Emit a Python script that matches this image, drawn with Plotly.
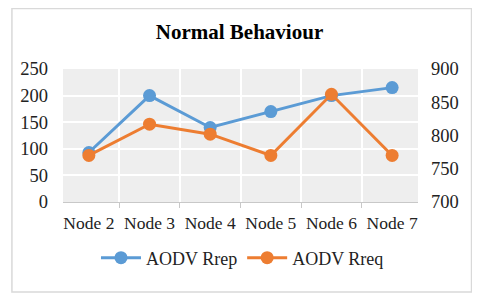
import plotly.graph_objects as go

categories = ["Node 2", "Node 3", "Node 4", "Node 5", "Node 6", "Node 7"]
aodv_rrep = [93, 200, 140, 170, 200, 215]
aodv_rreq = [770, 817, 802, 770, 862, 770]
left_ticks = [0, 50, 100, 150, 200, 250]
right_ticks = [700, 750, 800, 850, 900]

# page has an 8px body margin; size the figure to fill the rest of the window
W, H = 472, 287
L, R, T, B = 52, 62, 61, 93
pw, ph = W - L - R, H - T - B

font = "Liberation Serif, Times New Roman, serif"
blue = "#5b9bd5"
orange = "#ed7d31"

fig = go.Figure()
fig.add_trace(go.Scatter(x=categories, y=aodv_rrep, name="AODV Rrep", mode="lines+markers",
                         line=dict(color=blue, width=3), marker=dict(size=13, color=blue)))
fig.add_trace(go.Scatter(x=categories, y=aodv_rreq, name="AODV Rreq", mode="lines+markers",
                         line=dict(color=orange, width=3), marker=dict(size=13, color=orange),
                         yaxis="y2"))

def px2x(p):
    return (p - L) / pw

def py2y(p):
    return (H - B - p) / ph

fig.update_layout(
    width=W, height=H,
    margin=dict(l=L, r=R, t=T, b=B),
    paper_bgcolor="white",
    plot_bgcolor="#eeeeee",
    font=dict(family=font, size=18, color="#222"),
    title=dict(text="<b>Normal Behaviour</b>", x=231.5 / W, xanchor="center", y=1 - 24 / H, yanchor="middle",
               font=dict(family=font, size=21, color="#000")),
    xaxis=dict(type="category", tickson="boundaries", showgrid=True, gridcolor="white", gridwidth=1.5,
               showline=True, linecolor="#c8c8c8", linewidth=1, ticks="outside", ticklen=5,
               tickcolor="#c8c8c8", tickangle=0, ticklabelstandoff=5,
               tickfont=dict(size=17.5, family=font, color="#222")),
    yaxis=dict(range=[0, 250], tickvals=left_ticks, showgrid=True, gridcolor="white", gridwidth=1.5,
               zeroline=False, ticks="", ticklabelstandoff=14, tickfont=dict(size=18.5, family=font, color="#222")),
    yaxis2=dict(range=[700, 900], tickvals=right_ticks, overlaying="y", side="right", showgrid=False,
                zeroline=False, ticks="", ticklabelstandoff=12, tickfont=dict(size=18.5, family=font, color="#222")),
    legend=dict(orientation="h", x=px2x(233), xanchor="center", y=py2y(250), yanchor="middle",
                font=dict(size=18, family=font, color="#222"), itemwidth=40, tracegroupgap=0),
    showlegend=True,
    shapes=[dict(type="rect", xref="paper", yref="paper", x0=px2x(0.5), x1=px2x(464), y0=py2y(284), y1=py2y(0.5),
                 line=dict(color="#d9d9d9", width=1.5), fillcolor="rgba(0,0,0,0)", layer="below")],
)

fig.write_html("out.html")
